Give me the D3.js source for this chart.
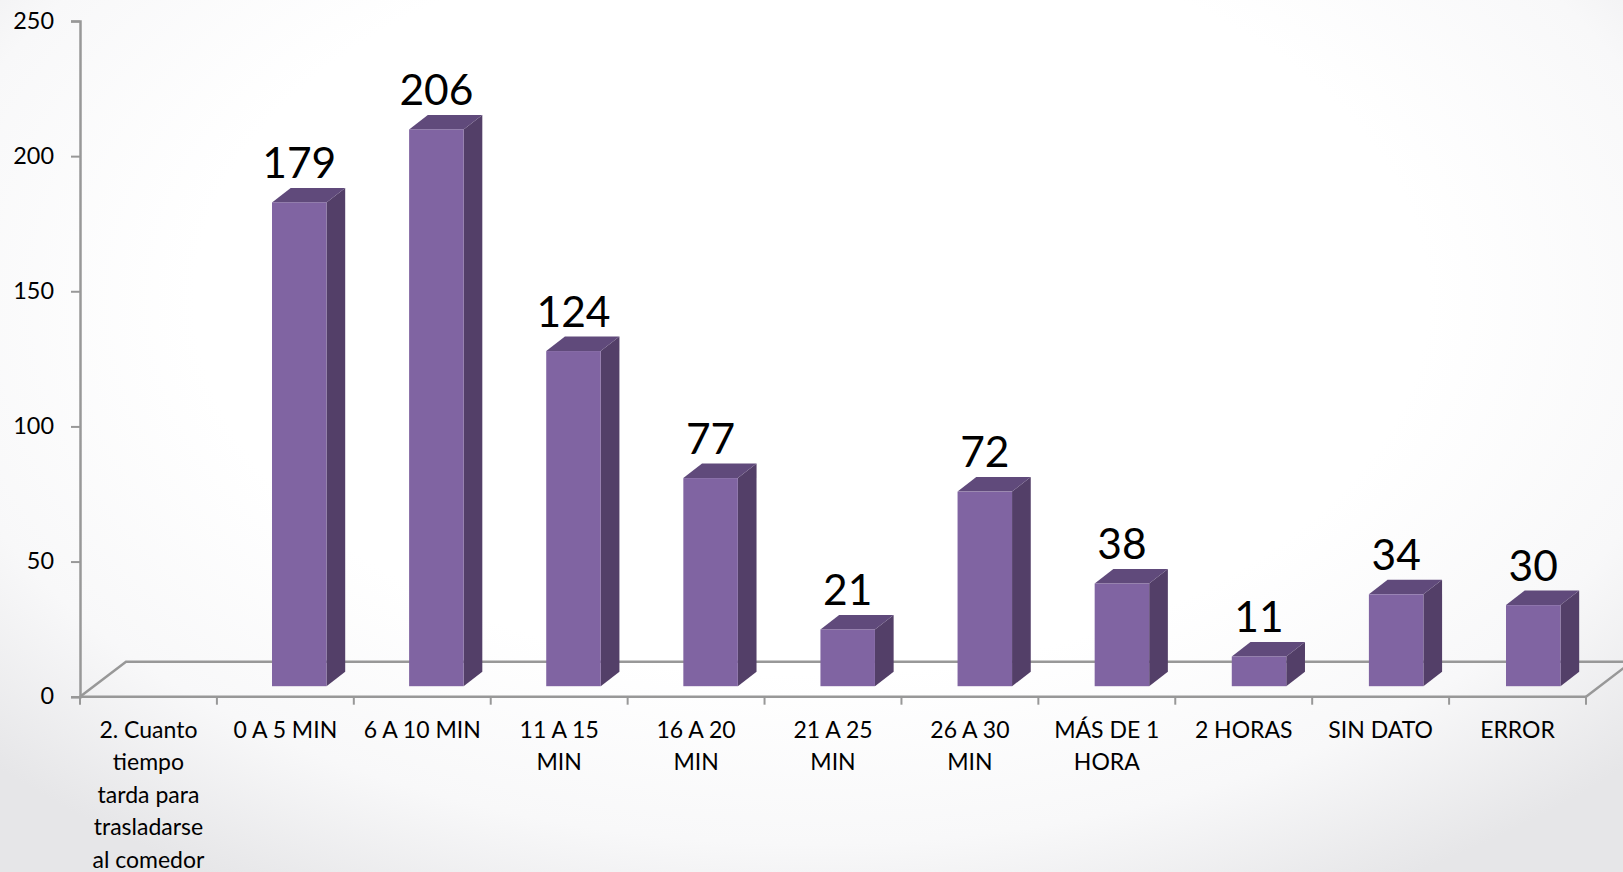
<!DOCTYPE html>
<html>
<head>
<meta charset="utf-8">
<script src="https://cdn.jsdelivr.net/npm/d3@7"></script>
<style>
  html, body { margin: 0; padding: 0; overflow: hidden; background: #fff; }
  text { font-family: Lato, "Open Sans", sans-serif; fill: #000; }
</style>
</head>
<body>
<div id="plot"></div>
<script>
//chart values
var categories = ["2. Cuanto|tiempo|tarda para|trasladarse|al comedor", "0 A 5 MIN", "6 A 10 MIN", "11 A 15|MIN", "16 A 20|MIN",
  "21 A 25|MIN", "26 A 30|MIN", "MÁS DE 1|HORA", "2 HORAS", "SIN DATO", "ERROR"];
var counts = [null, 179, 206, 124, 77, 21, 72, 38, 11, 34, 30];
var y_ticks = [0, 50, 100, 150, 200, 250];

var width = 1623, height = 872;
var margin = { top: 21, right: 37, bottom: 175.3, left: 80 };

var svg = d3.select("#plot").append("svg")
  .attr("width", width)
  .attr("height", height)
  .style("display", "block");

//background : white in the middle, grey towards the corners
var defs = svg.append("defs");
var bg = defs.append("radialGradient").attr("id", "bg")
  .attr("gradientUnits", "userSpaceOnUse")
  .attr("cx", 0).attr("cy", 0).attr("r", 1)
  .attr("gradientTransform", "translate(811 300) scale(1120 680)");
bg.append("stop").attr("offset", "0.55").attr("stop-color", "#ffffff");
bg.append("stop").attr("offset", "0.8").attr("stop-color", "#f8f8f9");
bg.append("stop").attr("offset", "1").attr("stop-color", "#e6e6e8");

svg.append("rect").attr("width", width).attr("height", height).attr("fill", "url(#bg)");

var xScale = d3.scaleBand()
  .domain(d3.range(categories.length))
  .range([margin.left, width - margin.right]);

var yScale = d3.scaleLinear()
  .domain([0, 250])
  .range([height - margin.bottom, margin.top]);

//bars are slightly offset from the tick bands because of the 3d floor
var barScale = d3.scaleLinear()
  .domain([1, categories.length - 1])
  .range([272, 1506]);

var axisColor = "#989898";
var axisWidth = 2.5;
var labelSize = "23px";
var y0 = yScale(0);
var xRight = width - margin.right;

//3d offsets
var floorDx = 46, floorDy = -35;
var barDx = 18.7, barDy = -14.5;
var barWidth = 54.5, barLift = 10.5;

//floor
var floor = svg.append("g").attr("fill", "none").attr("stroke", axisColor).attr("stroke-width", axisWidth);
floor.append("path").attr("d", "M" + margin.left + "," + y0 + "l" + floorDx + "," + floorDy + "H" + (xRight + floorDx) + "l" + (-floorDx) + "," + (-floorDy));

//y axis
var yAxis = d3.axisLeft(yScale).tickValues(y_ticks).tickSize(9).tickPadding(17);
var yG = svg.append("g").attr("transform", "translate(" + margin.left + ",0)").call(yAxis);

//x axis, ticks sit between the categories
var xEdges = d3.range(categories.length + 1).map(function(i) {
  return i < categories.length ? xScale(i) : xRight;
});
var xG = svg.append("g");
xG.append("path").attr("d", "M" + margin.left + "," + y0 + "H" + xRight)
  .attr("stroke", axisColor).attr("stroke-width", axisWidth).attr("fill", "none");
xG.selectAll("line").data(xEdges).enter().append("line")
  .attr("x1", function(d) { return d; })
  .attr("x2", function(d) { return d; })
  .attr("y1", y0)
  .attr("y2", y0 + 8)
  .attr("stroke", axisColor)
  .attr("stroke-width", 2);

yG.select(".domain").attr("stroke", axisColor).attr("stroke-width", axisWidth);
yG.selectAll(".tick line").attr("stroke", axisColor).attr("stroke-width", 2);
yG.selectAll(".tick text").style("font-size", "23.4px").attr("dy", "0.3em").style("font-family", "Lato");

//category labels
var labels = svg.append("g").selectAll("text")
  .data(categories).enter().append("text")
  .attr("text-anchor", "middle")
  .style("font-size", labelSize)
  .attr("y", 738);

labels.each(function(d, i) {
  var lines = d.split("|");
  var t = d3.select(this);
  lines.forEach(function(line, j) {
    t.append("tspan")
      .attr("x", xScale(i) + xScale.bandwidth() / 2)
      .attr("y", 738 + j * 32.4)
      .text(line);
  });
});

//bars
var barData = categories.map(function(c, i) {
  return { i: i, value: counts[i] };
}).filter(function(d) { return d.value != null; });

var bars = svg.append("g").selectAll("g")
  .data(barData).enter().append("g")
  .attr("transform", function(d) {
    return "translate(" + barScale(d.i) + "," + (yScale(d.value) - barLift) + ")";
  });

function barH(d) { return y0 - yScale(d.value); }

//side
bars.append("path")
  .attr("fill", "#533f68")
  .attr("d", function(d) {
    return "M" + barWidth + ",0l" + barDx + "," + barDy + "v" + barH(d) + "l" + (-barDx) + "," + (-barDy) + "z";
  });

//top
bars.append("path")
  .attr("fill", "#604a7b")
  .attr("d", "M0,0l" + barDx + "," + barDy + "h" + barWidth + "l" + (-barDx) + "," + (-barDy) + "z");

//front
bars.append("rect")
  .attr("fill", "#8064a2")
  .attr("width", barWidth)
  .attr("height", barH);

//value labels
bars.append("text")
  .attr("text-anchor", "middle")
  .attr("x", barWidth / 2)
  .attr("y", barDy - 10)
  .style("font-size", "42.5px")
  .text(function(d) { return d.value; });
</script>
</body>
</html>
